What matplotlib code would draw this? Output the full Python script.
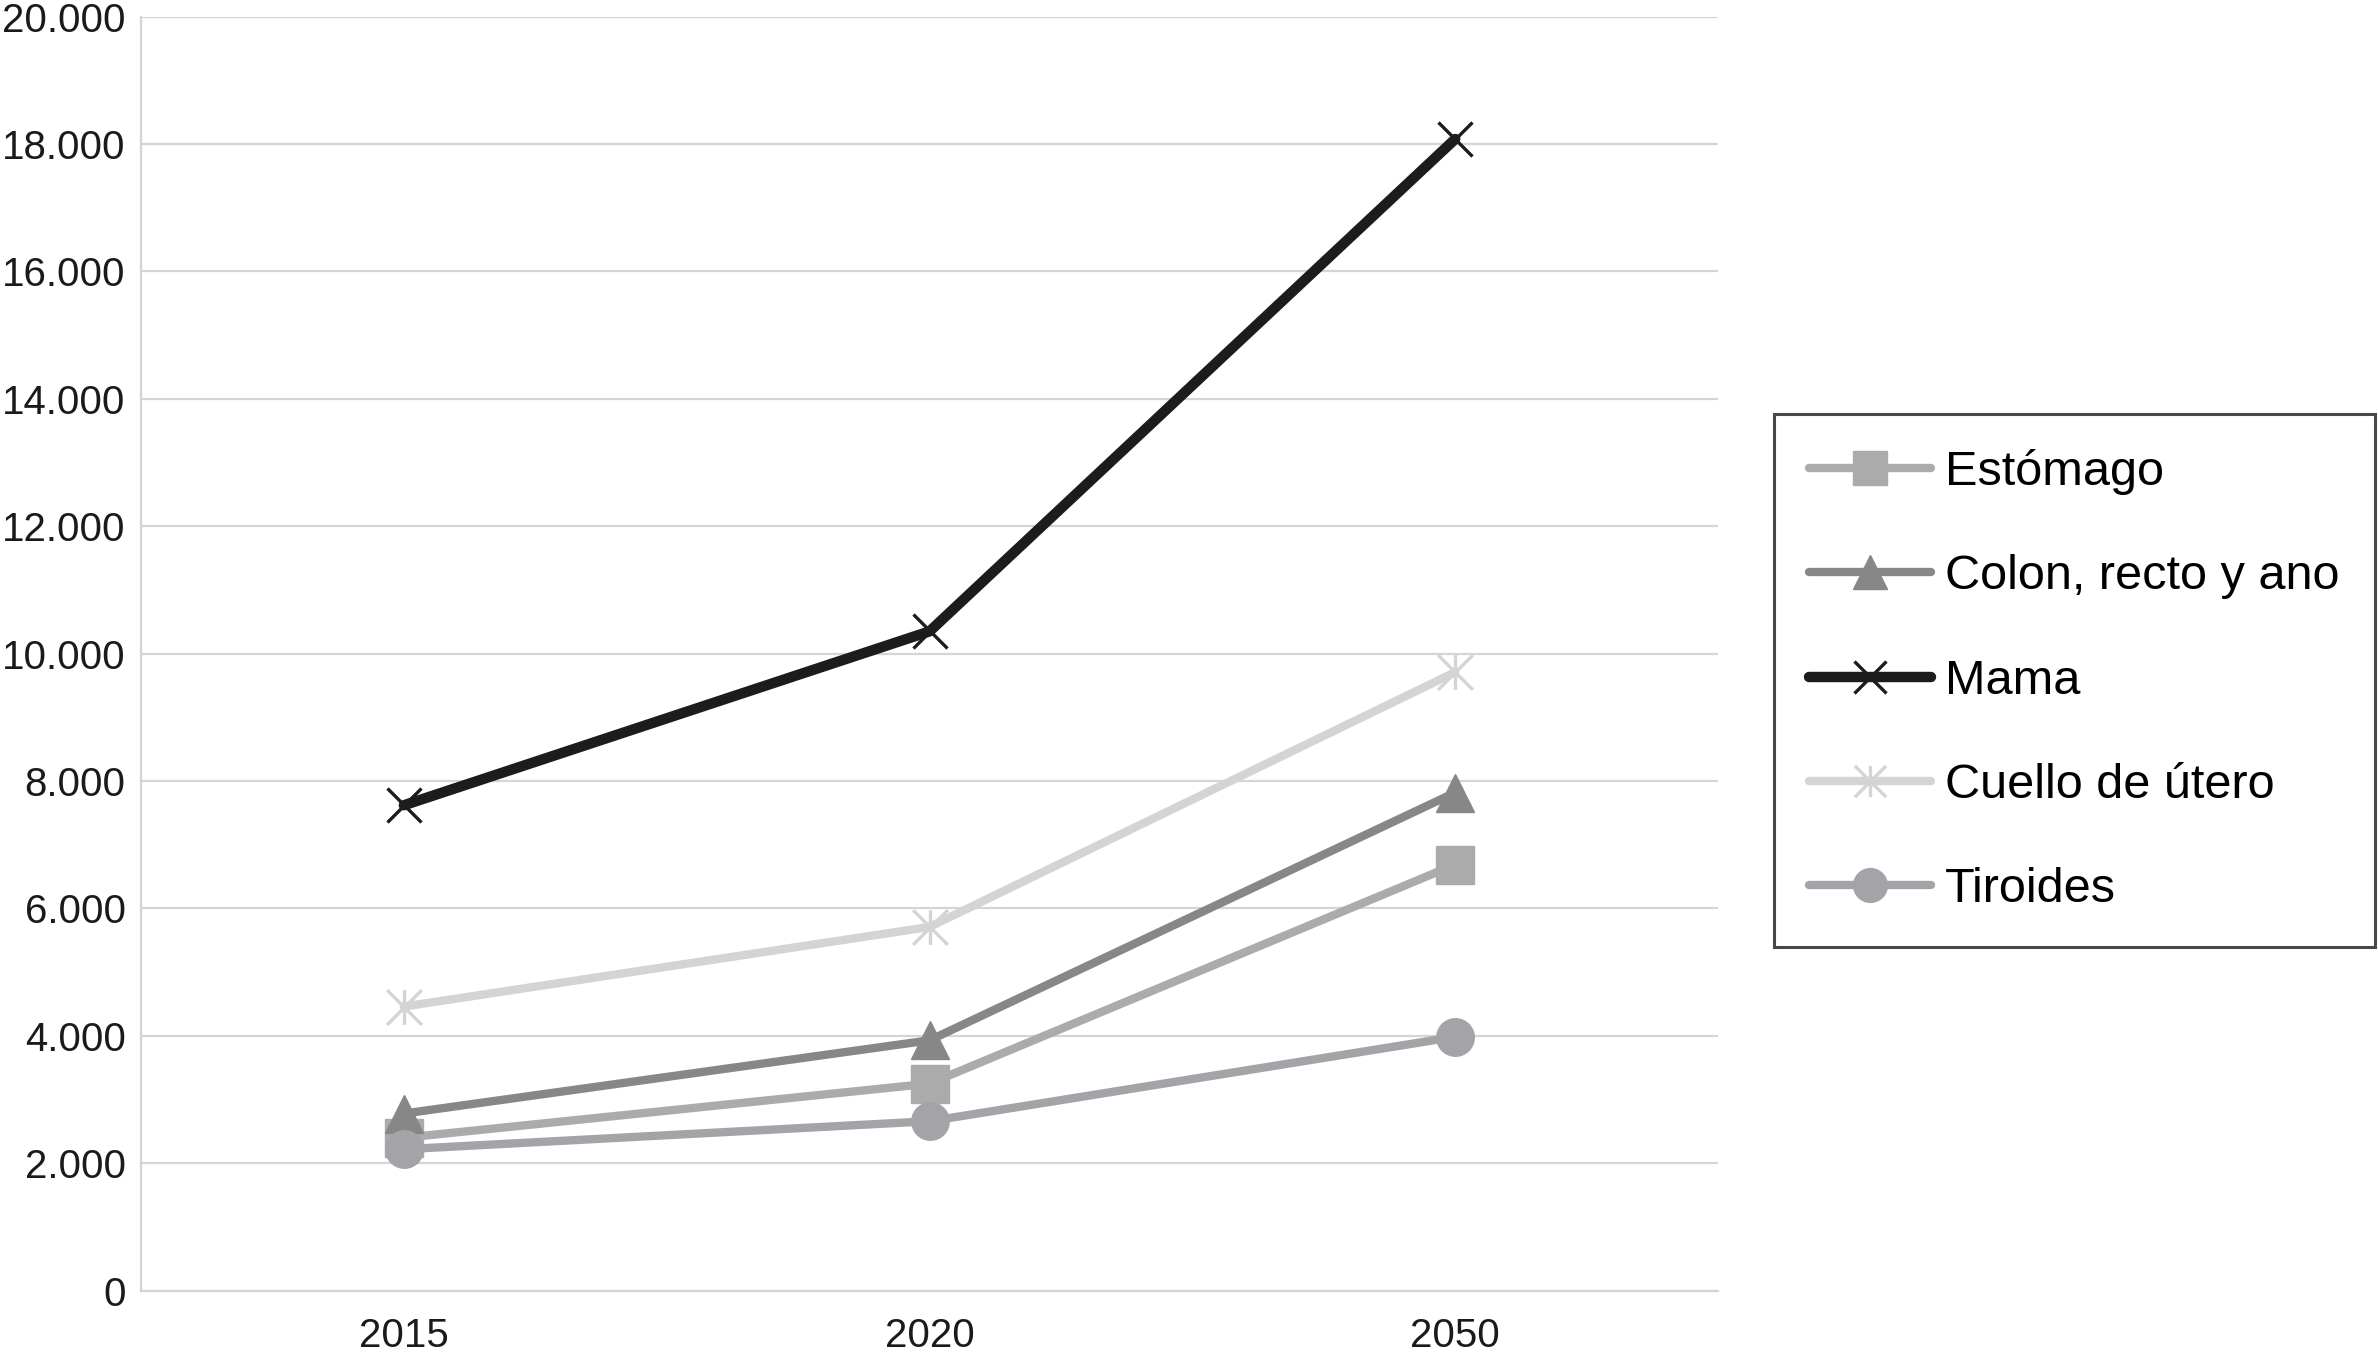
import matplotlib
matplotlib.use("Agg")
import matplotlib.pyplot as plt
from matplotlib.path import Path
from matplotlib.ticker import FuncFormatter

plt.rcParams['font.family'] = ['Liberation Sans', 'DejaVu Sans']

years = ['2015', '2020', '2050']
estomago = [2400, 3250, 6690]
colon = [2780, 3930, 7820]
mama = [7620, 10350, 18080]
cuello = [4460, 5710, 9710]
tiroides = [2220, 2660, 3985]

# asterisco estilo excel: linea vertical + aspa
asterisco = Path([(0, -1), (0, 1), (-1, -1), (1, 1), (-1, 1), (1, -1)],
                 [Path.MOVETO, Path.LINETO, Path.MOVETO, Path.LINETO,
                  Path.MOVETO, Path.LINETO])

series = [
  ('Estómago', estomago, '#ababab', 's', 27, 6.0),
  ('Colon, recto y ano', colon, '#878787', '^', 27, 6.0),
  ('Mama', mama, '#1c1c1c', 'x', 25, 7.5),
  ('Cuello de útero', cuello, '#d4d4d6', asterisco, 25, 6.0),
  ('Tiroides', tiroides, '#a4a4a8', 'o', 27, 6.0),
]

fig = plt.figure(figsize=(23.78, 13.57), dpi=100)
ax = fig.add_axes([0.0593, 0.0489, 0.6632, 0.9388])

x = list(range(len(years)))
for nombre, vals, col, mk, ms, lw in series:
  mew = 2.4 if nombre in ('Mama', 'Cuello de útero') else 1.0
  ax.plot(x, vals, color=col, lw=lw, marker=mk, ms=ms, mfc=col, mec=col,
          mew=mew, label=nombre, solid_capstyle='round', solid_joinstyle='round')

ax.set_xlim(-0.5, 2.5)
ax.set_ylim(0, 20000)
ax.set_yticks(range(0, 20001, 2000))
ax.yaxis.set_major_formatter(FuncFormatter(lambda v, p: '{:,.0f}'.format(v).replace(',', '.')))
ax.set_xticks(x)
ax.set_xticklabels(years)

ax.grid(axis='y', color='#d5d5d5', lw=1.6)
ax.set_axisbelow(True)
for s in ['top', 'right']:
  ax.spines[s].set_visible(False)
ax.spines['left'].set_color('#d3d3d5')
ax.spines['bottom'].set_color('#d5d5d5')
ax.spines['left'].set_linewidth(1.6)
ax.spines['bottom'].set_linewidth(1.6)
ax.tick_params(axis='both', length=0, labelsize=29, colors='#1a1a1a')
ax.tick_params(axis='y', pad=11)
ax.tick_params(axis='x', pad=19)

leg = fig.legend(loc='upper left', bbox_to_anchor=(1774 / 2378, 1 - 414 / 1357),
                 borderaxespad=0, fontsize=35, frameon=True, fancybox=False,
                 edgecolor='#1a1a1a', borderpad=0.72, labelspacing=1.22,
                 handlelength=2.5, handletextpad=0.3, markerscale=0.9)
leg.get_frame().set_linewidth(2.2)

fig.savefig('out.png', dpi=100)
